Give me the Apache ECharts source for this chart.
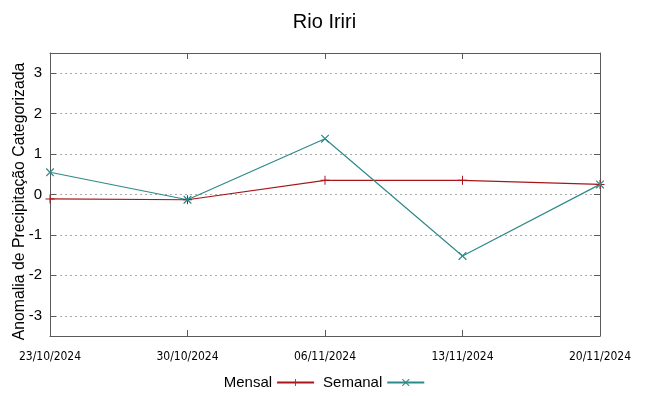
<!DOCTYPE html>
<html>
<head>
<meta charset="utf-8">
<script src="https://cdn.jsdelivr.net/npm/echarts@6/dist/echarts.min.js"></script>
<style>html,body{margin:0;padding:0;background:#fff}#c{width:649px;height:396px}</style>
</head>
<body>
<div id="c"></div>
<script>
var dates = ['23/10/2024', '30/10/2024', '06/11/2024', '13/11/2024', '20/11/2024'];
var mensal = [-0.11, -0.13, 0.35, 0.35, 0.25];
var semanal = [0.55, -0.13, 1.38, -1.52, 0.25];
var seriesNames = ['Mensal', 'Semanal'];

var plusPath = 'path://M4,0h1v9h-1z M0,4h9v1h-9z';
var crossPath = 'path://M0,0L1,0L9,8L9,9L8,9L0,1Z M8,0L9,0L9,1L1,9L0,9L0,8Z';
var red = '#a8161b';
var teal = '#2e8a8a';
var axisCol = '#5a5a5a';

var chart = echarts.init(document.getElementById('c'));
chart.setOption({
  animation: false,
  backgroundColor: '#fff',
  title: {
    text: 'Rio Iriri', left: 'center', top: 7,
    textStyle: { fontFamily: 'Liberation Sans', fontSize: 20, fontWeight: 'normal', color: '#000' }
  },
  legend: {
    data: seriesNames, bottom: 1, left: 'center', align: 'right',
    itemWidth: 37, itemHeight: 9, itemGap: 8,
    textStyle: { fontFamily: 'Liberation Sans', fontSize: 15, color: '#000' }
  },
  grid: { left: 50, right: 49, top: 53, bottom: 60, containLabel: false, outerBoundsMode: 'none' },
  xAxis: [{
    type: 'category', data: dates, boundaryGap: false,
    axisLine: { show: true, onZero: false, lineStyle: { color: axisCol, width: 1 } },
    axisTick: { show: true, inside: true, length: 6, lineStyle: { color: axisCol } },
    axisLabel: { margin: 15, fontFamily: 'DejaVu Sans Condensed, Liberation Sans', fontSize: 12, color: '#000' },
    splitLine: { show: false }
  }, {
    type: 'category', data: dates, boundaryGap: false, position: 'top',
    axisLine: { show: true, onZero: false, lineStyle: { color: axisCol, width: 1 } },
    axisTick: { show: true, inside: true, length: 6, lineStyle: { color: axisCol } },
    axisLabel: { show: false }, splitLine: { show: false }
  }],
  yAxis: [{
    type: 'value', min: -3.5, max: 3.5, splitNumber: 7,
    name: 'Anomalia de Precipitação Categorizada', nameLocation: 'middle', nameGap: 22, nameRotate: 90,
    nameMoveOverlap: false,
    nameTextStyle: { fontFamily: 'Liberation Sans', fontSize: 15.8, color: '#000', padding: [0, 14, 0, 0] },
    axisLine: { show: true, onZero: false, lineStyle: { color: axisCol, width: 1 } },
    axisTick: { show: true, inside: true, length: 6, lineStyle: { color: axisCol } },
    axisLabel: { showMinLabel: false, showMaxLabel: false, margin: 8, fontFamily: 'Liberation Sans', fontSize: 15, color: '#000' },
    splitLine: { show: true, lineStyle: { color: '#aaaaaa', type: [2, 3], width: 1 } }
  }, {
    type: 'value', min: -3.5, max: 3.5, splitNumber: 7, position: 'right',
    axisLine: { show: true, onZero: false, lineStyle: { color: axisCol, width: 1 } },
    axisTick: { show: true, inside: true, length: 6, lineStyle: { color: axisCol } },
    axisLabel: { show: false }, splitLine: { show: false }
  }],
  series: [{
    name: seriesNames[0], type: 'line', data: mensal,
    symbol: plusPath, symbolSize: 9, showAllSymbol: true,
    itemStyle: { color: red }, lineStyle: { color: red, width: 1.2 }
  }, {
    name: seriesNames[1], type: 'line', data: semanal,
    symbol: crossPath, symbolSize: 8, showAllSymbol: true,
    itemStyle: { color: teal }, lineStyle: { color: teal, width: 1.2 }
  }]
});
</script>
</body>
</html>
